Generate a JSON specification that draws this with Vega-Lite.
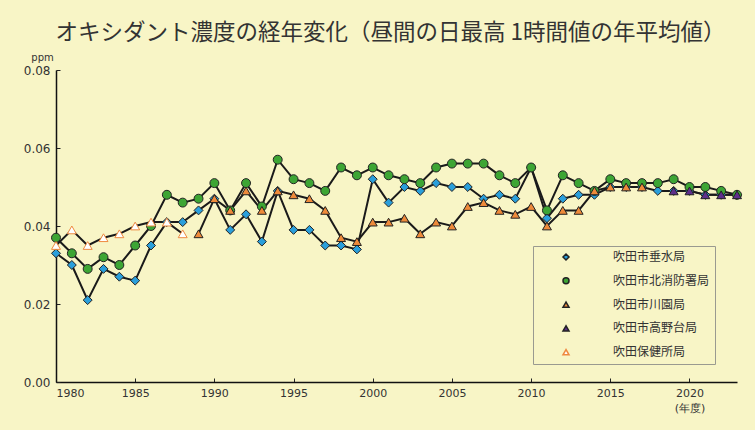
{
  "$schema": "https://vega.github.io/schema/vega-lite/v6.json",
  "width": 681,
  "height": 312,
  "autosize": {"type": "none"},
  "padding": {"left": 56, "top": 70, "right": 18, "bottom": 48},
  "background": "#F8F5C6",
  "config": {
    "view": {"stroke": null},
    "font": "Noto Sans CJK JP",
    "legend": {
      "strokeColor": "#9a9a90",
      "fillColor": "#F8F5C6",
      "padding": 5,
      "labelFont": "Noto Sans CJK JP",
      "labelFontSize": 12,
      "labelColor": "#333333",
      "symbolSize": 36,
      "symbolStrokeWidth": 1.5,
      "rowPadding": 11.8,
      "symbolOffset": 22,
      "labelOffset": 41
    }
  },
  "title": {
    "text": "オキシダント濃度の経年変化（昼間の日最高 1時間値の年平均値）",
    "fontSize": 22.5,
    "fontWeight": "normal",
    "color": "#333333",
    "anchor": "middle",
    "frame": "group",
    "offset": 8,
    "dx": -6,
    "font": "Noto Sans CJK JP"
  },
  "datasets": {
    "d": [
      {"s": "吹田市垂水局", "year": 1980, "v": 0.033},
      {"s": "吹田市垂水局", "year": 1981, "v": 0.030},
      {"s": "吹田市垂水局", "year": 1982, "v": 0.021},
      {"s": "吹田市垂水局", "year": 1983, "v": 0.029},
      {"s": "吹田市垂水局", "year": 1984, "v": 0.027},
      {"s": "吹田市垂水局", "year": 1985, "v": 0.026},
      {"s": "吹田市垂水局", "year": 1986, "v": 0.035},
      {"s": "吹田市垂水局", "year": 1987, "v": 0.041},
      {"s": "吹田市垂水局", "year": 1988, "v": 0.041},
      {"s": "吹田市垂水局", "year": 1989, "v": 0.044},
      {"s": "吹田市垂水局", "year": 1990, "v": 0.047},
      {"s": "吹田市垂水局", "year": 1991, "v": 0.039},
      {"s": "吹田市垂水局", "year": 1992, "v": 0.043},
      {"s": "吹田市垂水局", "year": 1993, "v": 0.036},
      {"s": "吹田市垂水局", "year": 1994, "v": 0.049},
      {"s": "吹田市垂水局", "year": 1995, "v": 0.039},
      {"s": "吹田市垂水局", "year": 1996, "v": 0.039},
      {"s": "吹田市垂水局", "year": 1997, "v": 0.035},
      {"s": "吹田市垂水局", "year": 1998, "v": 0.035},
      {"s": "吹田市垂水局", "year": 1999, "v": 0.034},
      {"s": "吹田市垂水局", "year": 2000, "v": 0.052},
      {"s": "吹田市垂水局", "year": 2001, "v": 0.046},
      {"s": "吹田市垂水局", "year": 2002, "v": 0.050},
      {"s": "吹田市垂水局", "year": 2003, "v": 0.049},
      {"s": "吹田市垂水局", "year": 2004, "v": 0.051},
      {"s": "吹田市垂水局", "year": 2005, "v": 0.050},
      {"s": "吹田市垂水局", "year": 2006, "v": 0.050},
      {"s": "吹田市垂水局", "year": 2007, "v": 0.047},
      {"s": "吹田市垂水局", "year": 2008, "v": 0.048},
      {"s": "吹田市垂水局", "year": 2009, "v": 0.047},
      {"s": "吹田市垂水局", "year": 2010, "v": 0.055},
      {"s": "吹田市垂水局", "year": 2011, "v": 0.042},
      {"s": "吹田市垂水局", "year": 2012, "v": 0.047},
      {"s": "吹田市垂水局", "year": 2013, "v": 0.048},
      {"s": "吹田市垂水局", "year": 2014, "v": 0.048},
      {"s": "吹田市垂水局", "year": 2015, "v": 0.050},
      {"s": "吹田市垂水局", "year": 2016, "v": 0.050},
      {"s": "吹田市垂水局", "year": 2017, "v": 0.050},
      {"s": "吹田市垂水局", "year": 2018, "v": 0.049},
      {"s": "吹田市垂水局", "year": 2019, "v": 0.049},
      {"s": "吹田市垂水局", "year": 2020, "v": 0.049},
      {"s": "吹田市垂水局", "year": 2021, "v": 0.048},
      {"s": "吹田市垂水局", "year": 2022, "v": 0.048},
      {"s": "吹田市垂水局", "year": 2023, "v": 0.048},
      {"s": "吹田市北消防署局", "year": 1980, "v": 0.037},
      {"s": "吹田市北消防署局", "year": 1981, "v": 0.033},
      {"s": "吹田市北消防署局", "year": 1982, "v": 0.029},
      {"s": "吹田市北消防署局", "year": 1983, "v": 0.032},
      {"s": "吹田市北消防署局", "year": 1984, "v": 0.030},
      {"s": "吹田市北消防署局", "year": 1985, "v": 0.035},
      {"s": "吹田市北消防署局", "year": 1986, "v": 0.040},
      {"s": "吹田市北消防署局", "year": 1987, "v": 0.048},
      {"s": "吹田市北消防署局", "year": 1988, "v": 0.046},
      {"s": "吹田市北消防署局", "year": 1989, "v": 0.047},
      {"s": "吹田市北消防署局", "year": 1990, "v": 0.051},
      {"s": "吹田市北消防署局", "year": 1991, "v": 0.044},
      {"s": "吹田市北消防署局", "year": 1992, "v": 0.051},
      {"s": "吹田市北消防署局", "year": 1993, "v": 0.045},
      {"s": "吹田市北消防署局", "year": 1994, "v": 0.057},
      {"s": "吹田市北消防署局", "year": 1995, "v": 0.052},
      {"s": "吹田市北消防署局", "year": 1996, "v": 0.051},
      {"s": "吹田市北消防署局", "year": 1997, "v": 0.049},
      {"s": "吹田市北消防署局", "year": 1998, "v": 0.055},
      {"s": "吹田市北消防署局", "year": 1999, "v": 0.053},
      {"s": "吹田市北消防署局", "year": 2000, "v": 0.055},
      {"s": "吹田市北消防署局", "year": 2001, "v": 0.053},
      {"s": "吹田市北消防署局", "year": 2002, "v": 0.052},
      {"s": "吹田市北消防署局", "year": 2003, "v": 0.051},
      {"s": "吹田市北消防署局", "year": 2004, "v": 0.055},
      {"s": "吹田市北消防署局", "year": 2005, "v": 0.056},
      {"s": "吹田市北消防署局", "year": 2006, "v": 0.056},
      {"s": "吹田市北消防署局", "year": 2007, "v": 0.056},
      {"s": "吹田市北消防署局", "year": 2008, "v": 0.053},
      {"s": "吹田市北消防署局", "year": 2009, "v": 0.051},
      {"s": "吹田市北消防署局", "year": 2010, "v": 0.055},
      {"s": "吹田市北消防署局", "year": 2011, "v": 0.044},
      {"s": "吹田市北消防署局", "year": 2012, "v": 0.053},
      {"s": "吹田市北消防署局", "year": 2013, "v": 0.051},
      {"s": "吹田市北消防署局", "year": 2014, "v": 0.049},
      {"s": "吹田市北消防署局", "year": 2015, "v": 0.052},
      {"s": "吹田市北消防署局", "year": 2016, "v": 0.051},
      {"s": "吹田市北消防署局", "year": 2017, "v": 0.051},
      {"s": "吹田市北消防署局", "year": 2018, "v": 0.051},
      {"s": "吹田市北消防署局", "year": 2019, "v": 0.052},
      {"s": "吹田市北消防署局", "year": 2020, "v": 0.050},
      {"s": "吹田市北消防署局", "year": 2021, "v": 0.050},
      {"s": "吹田市北消防署局", "year": 2022, "v": 0.049},
      {"s": "吹田市北消防署局", "year": 2023, "v": 0.048},
      {"s": "吹田市川園局", "year": 1989, "v": 0.038},
      {"s": "吹田市川園局", "year": 1990, "v": 0.047},
      {"s": "吹田市川園局", "year": 1991, "v": 0.044},
      {"s": "吹田市川園局", "year": 1992, "v": 0.049},
      {"s": "吹田市川園局", "year": 1993, "v": 0.044},
      {"s": "吹田市川園局", "year": 1994, "v": 0.049},
      {"s": "吹田市川園局", "year": 1995, "v": 0.048},
      {"s": "吹田市川園局", "year": 1996, "v": 0.047},
      {"s": "吹田市川園局", "year": 1997, "v": 0.044},
      {"s": "吹田市川園局", "year": 1998, "v": 0.037},
      {"s": "吹田市川園局", "year": 1999, "v": 0.036},
      {"s": "吹田市川園局", "year": 2000, "v": 0.041},
      {"s": "吹田市川園局", "year": 2001, "v": 0.041},
      {"s": "吹田市川園局", "year": 2002, "v": 0.042},
      {"s": "吹田市川園局", "year": 2003, "v": 0.038},
      {"s": "吹田市川園局", "year": 2004, "v": 0.041},
      {"s": "吹田市川園局", "year": 2005, "v": 0.040},
      {"s": "吹田市川園局", "year": 2006, "v": 0.045},
      {"s": "吹田市川園局", "year": 2007, "v": 0.046},
      {"s": "吹田市川園局", "year": 2008, "v": 0.044},
      {"s": "吹田市川園局", "year": 2009, "v": 0.043},
      {"s": "吹田市川園局", "year": 2010, "v": 0.045},
      {"s": "吹田市川園局", "year": 2011, "v": 0.040},
      {"s": "吹田市川園局", "year": 2012, "v": 0.044},
      {"s": "吹田市川園局", "year": 2013, "v": 0.044},
      {"s": "吹田市川園局", "year": 2014, "v": 0.049},
      {"s": "吹田市川園局", "year": 2015, "v": 0.050},
      {"s": "吹田市川園局", "year": 2016, "v": 0.050},
      {"s": "吹田市川園局", "year": 2017, "v": 0.050},
      {"s": "吹田市高野台局", "year": 2019, "v": 0.049},
      {"s": "吹田市高野台局", "year": 2020, "v": 0.049},
      {"s": "吹田市高野台局", "year": 2021, "v": 0.048},
      {"s": "吹田市高野台局", "year": 2022, "v": 0.048},
      {"s": "吹田市高野台局", "year": 2023, "v": 0.048},
      {"s": "吹田保健所局", "year": 1980, "v": 0.035},
      {"s": "吹田保健所局", "year": 1981, "v": 0.039},
      {"s": "吹田保健所局", "year": 1982, "v": 0.035},
      {"s": "吹田保健所局", "year": 1983, "v": 0.037},
      {"s": "吹田保健所局", "year": 1984, "v": 0.038},
      {"s": "吹田保健所局", "year": 1985, "v": 0.040},
      {"s": "吹田保健所局", "year": 1986, "v": 0.041},
      {"s": "吹田保健所局", "year": 1987, "v": 0.041},
      {"s": "吹田保健所局", "year": 1988, "v": 0.038}
    ]
  },
  "data": {"name": "d"},
  "encoding": {
    "x": {
      "field": "year",
      "type": "quantitative",
      "scale": {"domain": [1980, 2023], "nice": false, "zero": false},
      "axis": {
        "title": null,
        "values": [1980, 1985, 1990, 1995, 2000, 2005, 2010, 2015, 2020],
        "format": "d",
        "labelExpr": "datum.value == 2020 ? ['2020', '(年度)'] : datum.label",
        "labelFont": "DejaVu Sans",
        "labelFontSize": 11,
        "labelColor": "#333333",
        "labelLineHeight": 15,
        "labelPadding": 9,
        "tickSize": -4,
        "tickColor": "#222222",
        "domainColor": "#111111",
        "domainWidth": 1.5,
        "grid": false
      }
    },
    "y": {
      "field": "v",
      "type": "quantitative",
      "scale": {"domain": [0, 0.08], "nice": false},
      "axis": {
        "title": "ppm",
        "titleAngle": 0,
        "titleX": -14,
        "titleY": -13,
        "titleAlign": "center",
        "titleBaseline": "middle",
        "titleFont": "DejaVu Sans",
        "titleFontSize": 10,
        "titleFontWeight": "normal",
        "titleColor": "#333333",
        "values": [0, 0.02, 0.04, 0.06, 0.08],
        "format": ".2f",
        "labelFont": "DejaVu Sans",
        "labelFontSize": 12,
        "labelColor": "#333333",
        "labelPadding": 10,
        "tickSize": -4,
        "tickColor": "#222222",
        "domainColor": "#111111",
        "domainWidth": 1.5,
        "grid": false
      }
    }
  },
  "layer": [
    {
      "mark": {"type": "line", "color": "#1a1a1a", "strokeWidth": 2},
      "encoding": {"detail": {"field": "s", "type": "nominal"}}
    },
    {
      "mark": {"type": "point", "filled": true, "opacity": 1, "strokeWidth": 1, "size": 80},
      "encoding": {
        "shape": {
          "field": "s",
          "type": "nominal",
          "title": null,
          "scale": {
            "domain": ["吹田市垂水局", "吹田市北消防署局", "吹田市川園局", "吹田市高野台局", "吹田保健所局"],
            "range": ["diamond", "circle", "triangle-up", "triangle-up", "triangle-up"]
          },
          "legend": {"orient": "none", "legendX": 477, "legendY": 176}
        },
        "fill": {
          "field": "s",
          "type": "nominal",
          "title": null,
          "scale": {
            "domain": ["吹田市垂水局", "吹田市北消防署局", "吹田市川園局", "吹田市高野台局", "吹田保健所局"],
            "range": ["#2A9FDB", "#3DA534", "#EE8A3A", "#5E2F8C", "#FFFFFF"]
          },
          "legend": {"orient": "none", "legendX": 477, "legendY": 176}
        },
        "stroke": {
          "field": "s",
          "type": "nominal",
          "title": null,
          "scale": {
            "domain": ["吹田市垂水局", "吹田市北消防署局", "吹田市川園局", "吹田市高野台局", "吹田保健所局"],
            "range": ["#222222", "#222222", "#222222", "#222222", "#EF8A40"]
          },
          "legend": {"orient": "none", "legendX": 477, "legendY": 176}
        }
      }
    }
  ]
}
